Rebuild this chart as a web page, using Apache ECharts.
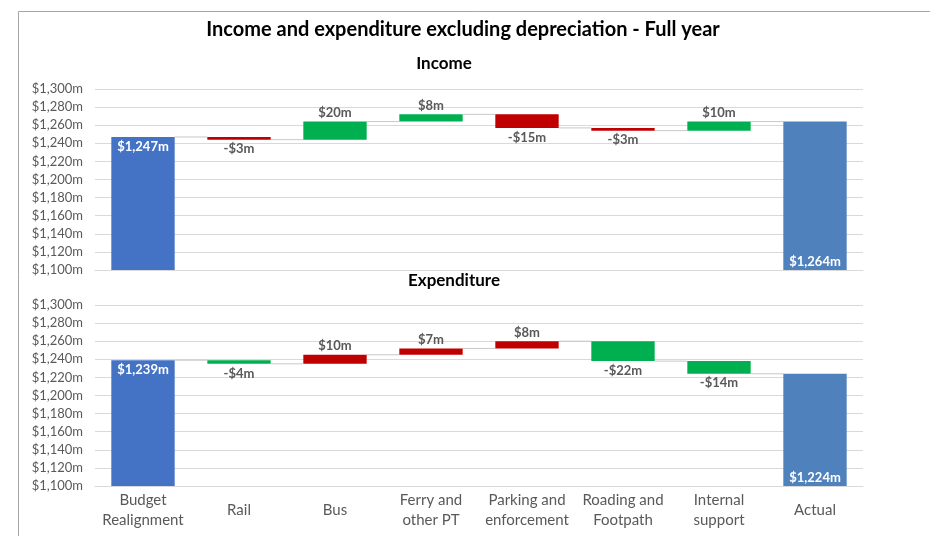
<!DOCTYPE html>
<html>
<head>
<meta charset="utf-8">
<script src="https://cdn.jsdelivr.net/npm/echarts@6/dist/echarts.min.js"></script>
<style>
html,body{margin:0;padding:0;background:#fff;}
#c{width:930px;height:536px;}
</style>
</head>
<body>
<div id="c"></div>
<script>
// ---- data ----
const categories = ['Budget\nRealignment','Rail','Bus','Ferry and\nother PT','Parking and\nenforcement','Roading and\nFootpath','Internal\nsupport','Actual'];
const incomeStart = 1247;
const incomeDeltas = [-3, 20, 8, -15, -3, 10];
const incomeActual = 1264;
const expenditureStart = 1239;
const expenditureDeltas = [-4, 10, 7, 8, -22, -14];
const expenditureActual = 1224;
const yTicks = [1100, 1120, 1140, 1160, 1180, 1200, 1220, 1240, 1260, 1280, 1300];

// ---- helpers ----
const AXIS_MIN = yTicks[0], AXIS_MAX = yTicks[yTicks.length-1], STEP = yTicks[1]-yTicks[0];
const FONT = 'Lato';
const GREEN = '#00B050', RED = '#C00000';
const LABEL_GREY = '#595959';

function fmtMoney(v){ return '$' + Number(v).toLocaleString('en-US') + 'm'; }

function build(start, deltas, actual){
  const base=[], up=[], down=[], tot=[], totVals=[], levels=[];
  base.push(AXIS_MIN); up.push('-'); down.push('-'); tot.push(start-AXIS_MIN); totVals.push(start);
  let run = start; levels.push(run);
  deltas.forEach(d=>{
    const nxt = run + d;
    base.push(Math.min(run,nxt));
    if(d>=0){ up.push(d); down.push('-'); } else { down.push(-d); up.push('-'); }
    tot.push('-'); totVals.push(null);
    run = nxt; levels.push(run);
  });
  base.push(AXIS_MIN); up.push('-'); down.push('-'); tot.push(actual-AXIS_MIN); totVals.push(actual);
  return {base, up, down, tot, totVals, levels};
}

const inc = build(incomeStart, incomeDeltas, incomeActual);
const exp = build(expenditureStart, expenditureDeltas, expenditureActual);

const BAR_W = 0.66;

function seriesFor(d, idx, upColor, downColor){
  const stack = 's'+idx;
  const totData = d.tot.map((v,i)=>{
    if(v==='-') return '-';
    return {value:v, itemStyle:{color: i===0 ? '#4472C4' : '#4F81BD'},
      label:{position: i===0 ? 'insideTop' : 'insideBottom', distance: i===0 ? 3 : 2}};
  });
  return [
    {type:'bar', xAxisIndex:idx, yAxisIndex:idx, stack, barWidth:(BAR_W*100)+'%',
     data:d.base, itemStyle:{color:'transparent'}, silent:true, emphasis:{disabled:true}},
    {type:'bar', xAxisIndex:idx, yAxisIndex:idx, stack, barWidth:(BAR_W*100)+'%',
     data:d.up, itemStyle:{color:upColor},
     label:{show:true, position:'top', distance:2, color:LABEL_GREY, fontFamily:FONT, fontWeight:'bold', fontSize:13,
       formatter:p=>'$'+p.value+'m'}},
    {type:'bar', xAxisIndex:idx, yAxisIndex:idx, stack, barWidth:(BAR_W*100)+'%',
     data:d.down, itemStyle:{color:downColor},
     label:{show:true, position:'bottom', distance:3, color:LABEL_GREY, fontFamily:FONT, fontWeight:'bold', fontSize:13,
       formatter:p=>'-$'+p.value+'m'}},
    {type:'bar', xAxisIndex:idx, yAxisIndex:idx, stack, barWidth:(BAR_W*100)+'%',
     data:totData,
     label:{show:true, color:'#fff', fontFamily:FONT, fontWeight:'bold', fontSize:13,
       formatter:p=>fmtMoney(d.totVals[p.dataIndex])}},
    {type:'custom', xAxisIndex:idx, yAxisIndex:idx, silent:true, z:1,
     data:d.levels.map((l,i)=>[i,l]),
     renderItem:(params, api)=>{
       const i = api.value(0), l = api.value(1);
       const bw = api.size([1,0])[0]*BAR_W;
       const p1 = api.coord([i,l]), p2 = api.coord([i+1,l]);
       return {type:'line', shape:{x1:p1[0]+bw/2, y1:p1[1], x2:p2[0]-bw/2, y2:p2[1]},
               style:{stroke:'#c8c8c8', lineWidth:1}};
     }}
  ];
}

function yAxis(idx){
  return {type:'value', gridIndex:idx, min:AXIS_MIN, max:AXIS_MAX, interval:STEP,
    axisLabel:{formatter:v=>fmtMoney(v), color:LABEL_GREY, fontFamily:FONT, fontSize:13, margin:12},
    splitLine:{lineStyle:{color:'#d9d9d9'}}, axisLine:{show:false}, axisTick:{show:false}};
}
function xAxis(idx, showLabels){
  return {type:'category', gridIndex:idx, data:categories,
    axisLine:{lineStyle:{color:'#d9d9d9'}}, axisTick:{show:false},
    axisLabel:{show:showLabels, color:LABEL_GREY, fontFamily:FONT, fontSize:15, lineHeight:20,
      verticalAlign:'middle', margin:24, interval:0}};
}

const chart = echarts.init(document.getElementById('c'), null, {renderer:'canvas'});
chart.setOption({
  animation:false,
  backgroundColor:'#fff',
  title:[
    {text:'Income and expenditure excluding depreciation - Full year', left:458, top:15, textAlign:'center',
     textStyle:{fontFamily:FONT, fontWeight:'bold', fontSize:20, color:'#000'}},
    {text:'Income', left:439, top:50, textAlign:'center',
     textStyle:{fontFamily:FONT, fontWeight:'bold', fontSize:17, color:'#000'}},
    {text:'Expenditure', left:449, top:267, textAlign:'center',
     textStyle:{fontFamily:FONT, fontWeight:'bold', fontSize:17, color:'#000'}}
  ],
  graphic:[{type:'rect', left:16, top:9, shape:{width:1000, height:600}, style:{fill:'none', stroke:'#a6a6a6', lineWidth:1}, silent:true}],
  grid:[
    {left:95, right:67, top:89, height:181},
    {left:95, right:67, top:305, height:181}
  ],
  xAxis:[xAxis(0,false), xAxis(1,true)],
  yAxis:[yAxis(0), yAxis(1)],
  series:[...seriesFor(inc,0,GREEN,RED), ...seriesFor(exp,1,RED,GREEN)]
});
</script>
</body>
</html>
